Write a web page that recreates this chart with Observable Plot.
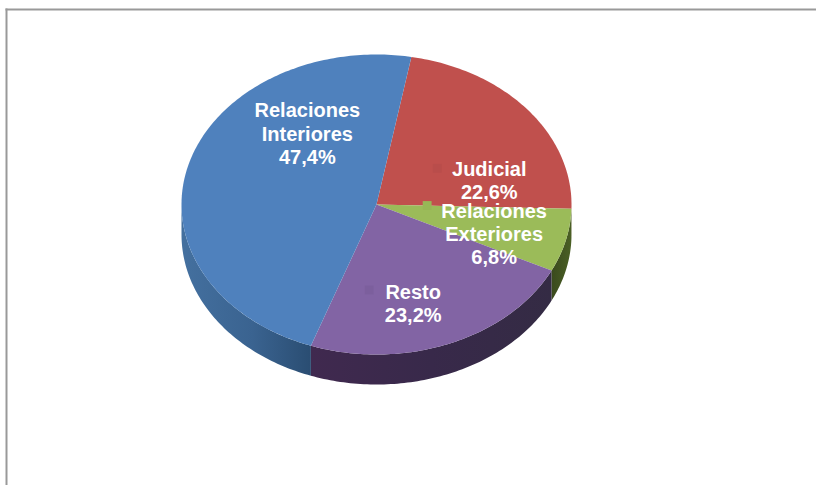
<!DOCTYPE html>
<html>
<head>
<meta charset="utf-8">
<script src="https://cdn.jsdelivr.net/npm/d3@7"></script>
<script src="https://cdn.jsdelivr.net/npm/@observablehq/plot@0.6"></script>
<style>html,body{margin:0;padding:0;background:#fff}svg{display:block}</style>
</head>
<body>
<div id="chart"></div>
<script>
const names = ["Judicial", "Relaciones Exteriores", "Resto", "Relaciones Interiores"];
const labels = ["Judicial\n22,6%", "Relaciones\nExteriores\n6,8%", "Resto\n23,2%", "Relaciones\nInteriores\n47,4%"];
const shares = [22.6, 6.8, 23.2, 47.4];
const faceColors = ["#c0504d", "#9bbb59", "#8264a4", "#4f81bd"];
const keyColors = ["#b94d4b", "#97b756", "#7c5f9d", null];

const firstAngle = 10.3;   // degrees clockwise from the top of the pie
const depth = 0.2;         // wall height, in radius units

const total = d3.sum(shares);
let running = firstAngle;
const slices = names.map((name, i) => {
  const start = running;
  running += (shares[i] / total) * 360;
  return {name, label: labels[i], start, end: running, mid: (start + running) / 2, i};
});

const polar = (deg, r = 1) => {
  const a = (deg * Math.PI) / 180;
  return {px: r * Math.sin(a), py: r * Math.cos(a)};
};
const arc = (a, b) => {
  const n = Math.max(2, Math.ceil(b - a));
  return d3.range(n + 1).map((k) => polar(a + ((b - a) * k) / n));
};

const faceRows = slices.flatMap((s) =>
  [{px: 0, py: 0}, ...arc(s.start, s.end)].map((p) => ({...p, name: s.name}))
);

function wallRows(s) {
  const a = Math.max(s.start, 90), b = Math.min(s.end, 270);
  if (b <= a) return [];
  const top = arc(a, b);
  const bottom = top.map((p) => ({px: p.px, py: p.py - depth})).reverse();
  return [...top, ...bottom];
}

const wallFills = ["#7a3230", "url(#wallGreen)", "url(#wallPurple)", "url(#wallBlue)"];

const defsMark = () => {
  const svgNS = "http://www.w3.org/2000/svg";
  const defs = document.createElementNS(svgNS, "defs");
  const grads = {
    wallBlue: [["0%", "#2a4d72"], ["45%", "#3a6390"], ["100%", "#44709f"]],
    wallPurple: [["0%", "#342b44"], ["50%", "#38294a"], ["100%", "#40294f"]],
    wallGreen: [["0%", "#3a4a1d"], ["100%", "#4b6025"]]
  };
  for (const [id, stops] of Object.entries(grads)) {
    const g = document.createElementNS(svgNS, "linearGradient");
    g.setAttribute("id", id);
    // the walls are drawn from the slice's first angle, right to left on screen
    g.setAttribute("x1", "0");
    g.setAttribute("x2", "1");
    for (const [offset, color] of stops) {
      const st = document.createElementNS(svgNS, "stop");
      st.setAttribute("offset", offset);
      st.setAttribute("stop-color", color);
      g.appendChild(st);
    }
    defs.appendChild(g);
  }
  // Screen order: the blue and purple walls are darkest next to their shared seam.
  defs.querySelector("#wallBlue").setAttribute("x1", "1");
  defs.querySelector("#wallBlue").setAttribute("x2", "0");
  defs.querySelector("#wallPurple").setAttribute("x1", "1");
  defs.querySelector("#wallPurple").setAttribute("x2", "0");
  return defs;
};

// label and legend-key nudges, in pixels, from each slice's mid-radius point
const labelNudge = [[37, 23], [23, 11], [0, 29], [25, -52]];
const keyNudge = [[-15, 11], [-44, -17], [-44, 16]];

const midPoint = (s) => polar(s.mid, 0.5);

const plot = Plot.plot({
  width: 816,
  height: 485,
  marginLeft: 6,
  marginTop: 9,
  marginRight: 0,
  marginBottom: 0,
  style: {background: "#fff", fontFamily: "'Liberation Sans', Arial, sans-serif"},
  x: {domain: [-1, 1], range: [181, 571], axis: null},
  y: {domain: [-1, 1], range: [354, 54], axis: null},
  color: {domain: names, range: faceColors},
  marks: [
    defsMark,
    Plot.frame({anchor: "top", stroke: "#999", strokeWidth: 2}),
    Plot.frame({anchor: "left", stroke: "#999", strokeWidth: 2}),
    ...slices.map((s) =>
      Plot.line(wallRows(s), {x: "px", y: "py", fill: wallFills[s.i], stroke: "none"})
    ),
    Plot.line(faceRows, {x: "px", y: "py", z: "name", fill: "name", stroke: "none"}),
    ...slices.filter((s) => keyColors[s.i]).map((s) =>
      Plot.dot([midPoint(s)], {
        x: "px", y: "py", symbol: "square", r: 5, fill: keyColors[s.i], stroke: "none",
        dx: keyNudge[s.i][0], dy: keyNudge[s.i][1]
      })
    ),
    ...slices.map((s) =>
      Plot.text([{...midPoint(s), label: s.label}], {
        x: "px", y: "py", text: "label", fill: "#fff", fontSize: 20, fontWeight: "bold",
        lineHeight: 1.17, textAnchor: "middle",
        dx: labelNudge[s.i][0], dy: labelNudge[s.i][1]
      })
    )
  ]
});
document.getElementById("chart").appendChild(plot);
</script>
</body>
</html>
